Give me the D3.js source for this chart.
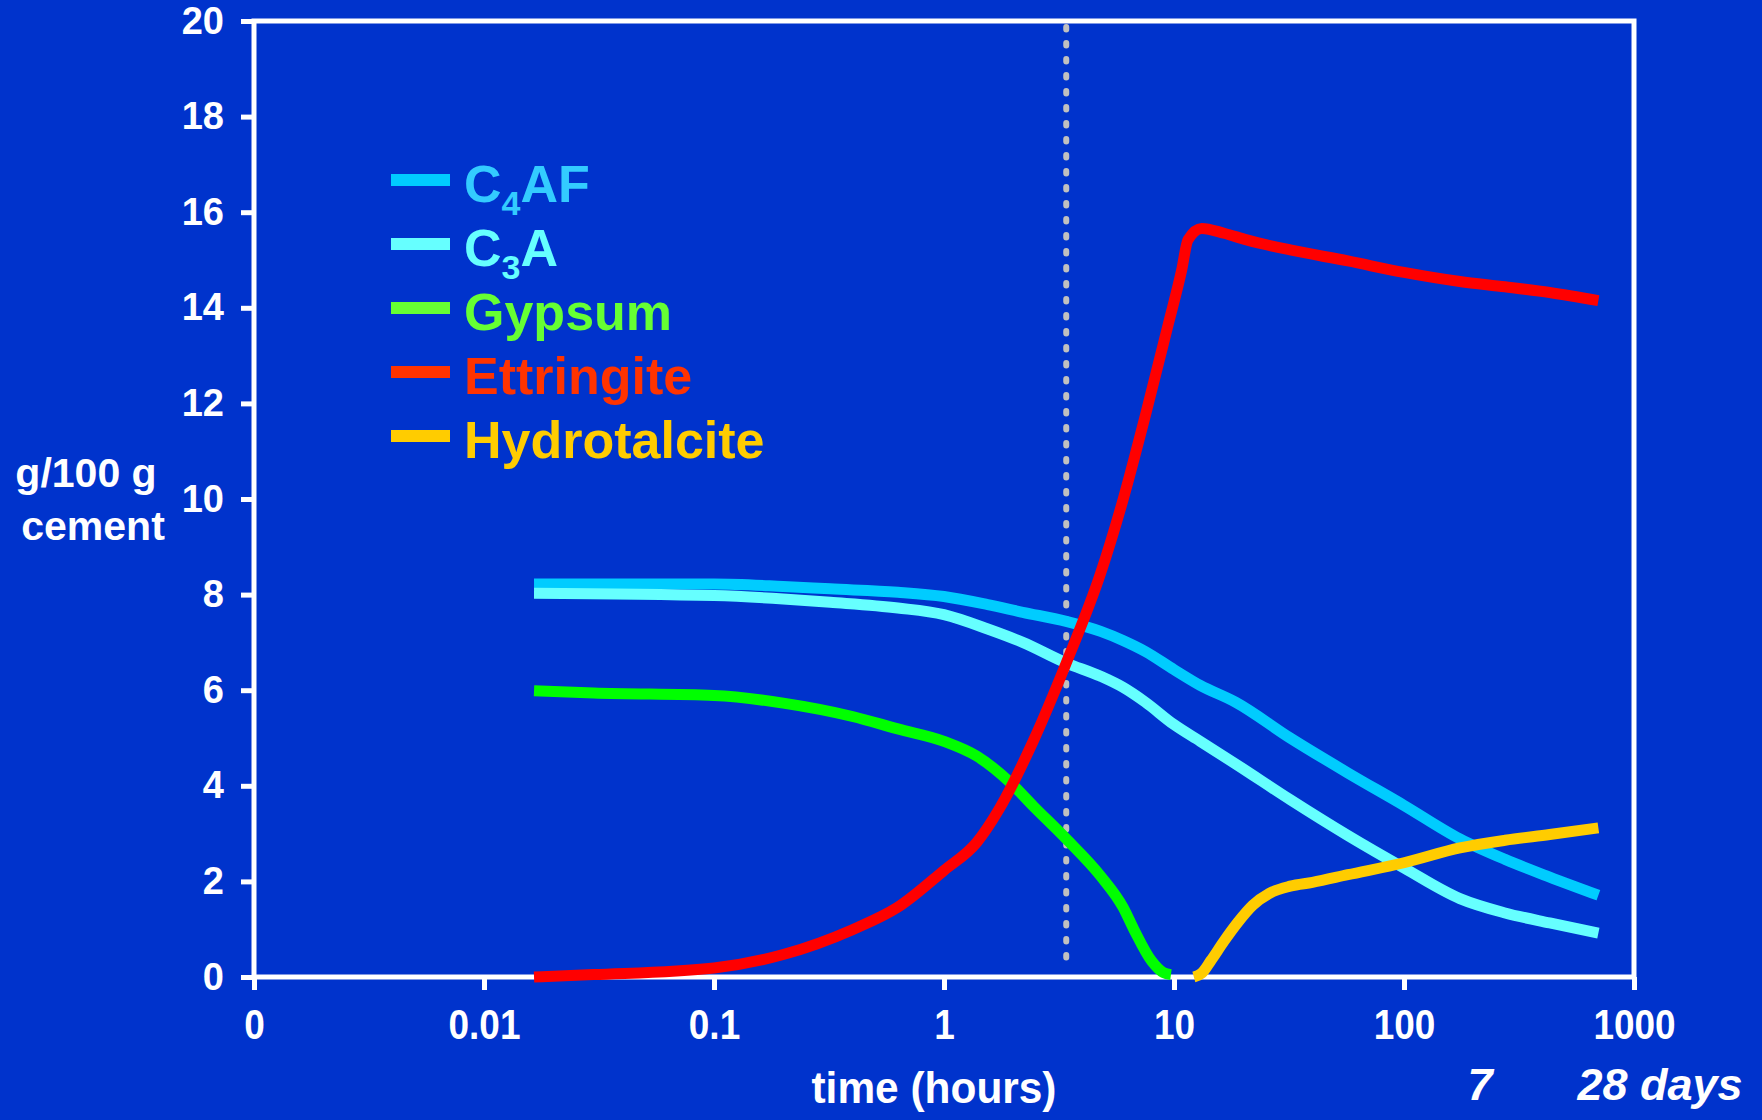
<!DOCTYPE html>
<html>
<head>
<meta charset="utf-8">
<script src="https://cdn.jsdelivr.net/npm/d3@7"></script>
<style>
  body { margin: 0; background: #0033cc; }
  svg { display: block; }
  text { font-family: "Liberation Sans", Arial, sans-serif; font-weight: bold; fill: #fff; }
</style>
</head>
<body>
<svg id="chart"></svg>
<script>
const width = 1762
const height = 1120
const margin = {top: 21, right: 128, bottom: 143, left: 254}

// axis ticks
const xTicks = [0.001, 0.01, 0.1, 1, 10, 100, 1000]
const xTickLabels = ['0', '0.01', '0.1', '1', '10', '100', '1000']
const yTicks = [0, 2, 4, 6, 8, 10, 12, 14, 16, 18, 20]

// time in hours, amount in g/100 g cement
const c4afTime = [0.0165, 0.1, 0.2, 0.32, 0.63, 1.0, 1.55, 2.2, 3.4, 4.8, 6.0, 7.5, 10, 13, 18.5, 32, 57, 100, 175, 275, 430, 700]
const c4afValue = [8.22, 8.22, 8.17, 8.12, 8.05, 7.96, 7.79, 7.63, 7.44, 7.23, 7.04, 6.81, 6.43, 6.10, 5.75, 5.00, 4.27, 3.59, 2.89, 2.46, 2.09, 1.71]

const c3aTime = [0.0165, 0.1, 0.2, 0.32, 0.63, 1.0, 1.55, 2.2, 3.4, 4.8, 6.0, 7.5, 10, 13, 18.5, 32, 57, 100, 175, 275, 430, 700]
const c3aValue = [8.03, 7.98, 7.91, 7.84, 7.72, 7.58, 7.28, 7.00, 6.57, 6.29, 6.06, 5.75, 5.28, 4.93, 4.46, 3.71, 2.96, 2.28, 1.64, 1.34, 1.13, 0.92]

const gypsumTime = [0.0165, 0.03, 0.1, 0.2, 0.4, 0.63, 1.0, 1.39, 1.95, 2.45, 3.4, 4.8, 6.0, 6.7, 8.0, 9.0, 9.7]
const gypsumValue = [5.99, 5.94, 5.89, 5.73, 5.45, 5.19, 4.93, 4.62, 4.06, 3.57, 2.89, 2.11, 1.46, 0.99, 0.33, 0.09, 0.05]

const ettringiteTime = [0.0165, 0.03, 0.1, 0.2, 0.4, 0.63, 1.0, 1.39, 1.74, 2.44, 3.4, 4.8, 6.0, 7.5, 9.4, 10.8, 11.5, 13.2, 16.5, 20.7, 32, 57, 100, 175, 275, 430, 700]
const ettringiteValue = [0, 0.05, 0.19, 0.47, 0.99, 1.46, 2.23, 2.82, 3.52, 4.93, 6.57, 8.45, 9.98, 11.74, 13.62, 14.79, 15.42, 15.66, 15.56, 15.42, 15.21, 14.98, 14.74, 14.55, 14.44, 14.32, 14.15]

const hydrotalciteTime = [12.2, 13.2, 14.5, 16.5, 19, 22, 26, 32, 40, 57, 100, 175, 275, 430, 700]
const hydrotalciteValue = [0, 0.08, 0.35, 0.75, 1.15, 1.5, 1.75, 1.9, 1.98, 2.14, 2.39, 2.70, 2.86, 2.98, 3.12]

const dottedLineTime = 3.4

const seriesNames = ['C4AF', 'C3A', 'Gypsum', 'Ettringite', 'Hydrotalcite']
const lineColors = ['#00ccff', '#66ffff', '#00ff00', '#ff0000', '#ffcc00']
const legendLineColors = ['#00ccff', '#66ffff', '#66ff33', '#ff3300', '#ffcc00']
const legendTextColors = ['#33ccff', '#66ffff', '#66ff33', '#ff3300', '#ffcc00']

const series = [
  {name: 'C4AF', time: c4afTime, value: c4afValue},
  {name: 'C3A', time: c3aTime, value: c3aValue},
  {name: 'Gypsum', time: gypsumTime, value: gypsumValue},
  {name: 'Ettringite', time: ettringiteTime, value: ettringiteValue},
  {name: 'Hydrotalcite', time: hydrotalciteTime, value: hydrotalciteValue}
].map((s, i) => ({...s, color: lineColors[i], points: s.time.map((t, j) => [t, s.value[j]])}))

const svg = d3.select('#chart').attr('width', width).attr('height', height)

svg.append('rect').attr('width', width).attr('height', height).attr('fill', '#0033cc')

const x = d3.scaleLog().domain([0.001, 1000]).range([margin.left, width - margin.right])
const y = d3.scaleLinear().domain([0, 20]).range([height - margin.bottom, margin.top])

// plot frame
svg.append('rect')
  .attr('x', x(0.001)).attr('y', y(20))
  .attr('width', x(1000) - x(0.001)).attr('height', y(0) - y(20))
  .attr('fill', 'none').attr('stroke', '#fff').attr('stroke-width', 5)

const yAxis = svg.append('g')
  .attr('transform', `translate(${x(0.001)},0)`)
  .call(d3.axisLeft(y).tickValues(yTicks).tickSize(13).tickPadding(17))
yAxis.select('.domain').remove()
yAxis.selectAll('line').attr('stroke', '#fff').attr('stroke-width', 5)
yAxis.selectAll('text')
  .attr('fill', '#fff').attr('font-size', 38)
  .attr('font-family', '"Liberation Sans", Arial, sans-serif').attr('font-weight', 'bold')

const xAxis = svg.append('g')
  .attr('transform', `translate(0,${y(0)})`)
  .call(d3.axisBottom(x).tickValues(xTicks).tickSize(13).tickPadding(19)
    .tickFormat((d, i) => xTickLabels[i]))
xAxis.select('.domain').remove()
xAxis.selectAll('line').attr('stroke', '#fff').attr('stroke-width', 5)
// the tick labels are a narrow face: squeeze them horizontally
xAxis.selectAll('text')
  .attr('fill', '#fff').attr('font-size', 42)
  .attr('font-family', '"Liberation Sans", Arial, sans-serif')
  .attr('font-weight', 'bold')
  .attr('transform', 'scale(0.88,1)')

// setting time marker
svg.append('line')
  .attr('x1', x(dottedLineTime)).attr('x2', x(dottedLineTime))
  .attr('y1', y(20) + 6).attr('y2', y(0) - 6)
  .attr('stroke', '#c0c0c0').attr('stroke-width', 6)
  .attr('stroke-linecap', 'round').attr('stroke-dasharray', '2.5 13.5')

const line = d3.line()
  .x(d => x(d[0]))
  .y(d => y(d[1]))
  .curve(d3.curveMonotoneX)

const drawOrder = [0, 1, 2, 4, 3]
svg.append('g').selectAll('path')
  .data(drawOrder.map(i => series[i]))
  .join('path')
  .attr('d', d => line(d.points))
  .attr('fill', 'none')
  .attr('stroke', d => d.color)
  .attr('stroke-width', 11)
  .attr('stroke-linejoin', 'round')

// legend
const legend = svg.append('g')
seriesNames.forEach((name, i) => {
  const ly = 180 + i * 64
  legend.append('line')
    .attr('x1', 391).attr('x2', 450).attr('y1', ly).attr('y2', ly)
    .attr('stroke', legendLineColors[i]).attr('stroke-width', 12)
  const t = legend.append('text')
    .attr('x', 464).attr('y', ly + 22)
    .attr('font-size', 52)
    .style('fill', legendTextColors[i])
  const parts = name.match(/^([A-Z])(\d)(.*)$/)
  if (parts) {
    t.append('tspan').text(parts[1])
    t.append('tspan').attr('font-size', 34).attr('dy', 13).text(parts[2])
    t.append('tspan').attr('dy', -13).text(parts[3])
  } else {
    t.text(name)
  }
})

// axis titles
svg.append('text').attr('x', 86).attr('y', 487).attr('text-anchor', 'middle')
  .attr('font-size', 41).text('g/100 g')
svg.append('text').attr('x', 93).attr('y', 540).attr('text-anchor', 'middle')
  .attr('font-size', 41).text('cement')

svg.append('text').attr('x', 934).attr('y', 1103).attr('text-anchor', 'middle')
  .attr('font-size', 44).attr('textLength', 245).attr('lengthAdjust', 'spacingAndGlyphs')
  .text('time (hours)')

svg.append('text').attr('x', 1480).attr('y', 1100).attr('text-anchor', 'middle')
  .attr('font-size', 45).attr('font-style', 'italic').text('7')
svg.append('text').attr('x', 1660).attr('y', 1100).attr('text-anchor', 'middle')
  .attr('font-size', 45).attr('font-style', 'italic').text('28 days')
</script>
</body>
</html>
